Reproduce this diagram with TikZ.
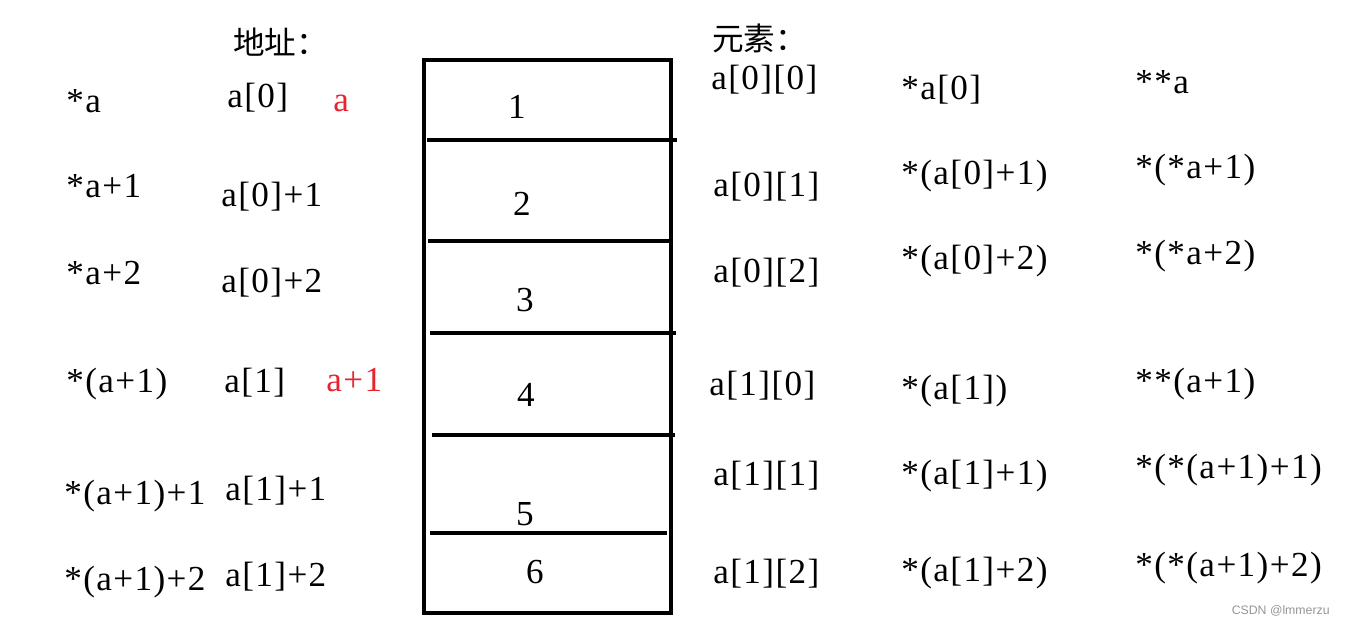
\documentclass[tikz,border=0pt]{standalone}
\usepackage{fontspec}
\setmainfont{Liberation Serif}[LetterSpace=4.0]
\newfontfamily\cjk{Noto Sans CJK SC}
\newfontfamily\wmfont{Liberation Sans}
\usetikzlibrary{positioning}
\definecolor{markred}{RGB}{232,36,48}
\definecolor{markgray}{RGB}{150,150,150}

\begin{document}
\begin{tikzpicture}[x=0.02cm, y=-0.02cm,
  cell/.style={line width=2.2pt},
  txt/.style={anchor=west, inner sep=0pt, yshift=-0.12cm, text height=1.5ex, text depth=0.3ex, font=\fontsize{20}{24}\selectfont},
  hl/.style={txt, text=markred},
  head/.style={anchor=west, inner sep=0pt, font=\cjk\fontsize{18}{22}\selectfont},
  num/.style={inner sep=0pt, font=\fontsize{20}{24}\selectfont}]

\useasboundingbox (0,0) rectangle (1352,626);

% the memory block
\draw [cell] (424,60) rectangle (671,613);
\draw [cell] (427,140) -- (677,140);
\draw [cell] (428,241) -- (671,241);
\draw [cell] (430,333) -- (676,333);
\draw [cell] (432,435) -- (675,435);
\draw [cell] (430,533) -- (667,533);

\node [num] (n1) at (517,107) {1};
\node [num] (n2) at (522,204) {2};
\node [num] (n3) at (525,300) {3};
\node [num] (n4) at (526,395) {4};
\node [num] (n5) at (525,514) {5};
\node [num] (n6) at (535,572) {6};

% addresses
\node [head] (addr) at (233,42) {地址：};

\node [txt] (p00) at (66,102) {*a};
\node [txt] (q00) at (227,97) {a[0]};
\node [hl] (r0) at (333,101) {a};

\node [txt] (p01) at (66,187) {*a+1};
\node [txt] (q01) at (221,196) {a[0]+1};

\node [txt] (p02) at (66,274) {*a+2};
\node [txt] (q02) at (221,282) {a[0]+2};

\node [txt] (p10) at (66,382) {*(a+1)};
\node [txt] (q10) at (224,382) {a[1]};
\node [hl] (r1) at (326,381) {a+1};

\node [txt] (p11) at (64,494) {*(a+1)+1};
\node [txt] (q11) at (225,490) {a[1]+1};

\node [txt] (p12) at (64,580) {*(a+1)+2};
\node [txt] (q12) at (225,576) {a[1]+2};

% elements
\node [head] (elem) at (712,38) {元素：};

\node [txt] (e00) at (711,79) {a[0][0]};
\node [txt] (f00) at (901,89) {*a[0]};
\node [txt] (g00) at (1135,83) {**a};

\node [txt] (e01) at (713,186) {a[0][1]};
\node [txt] (f01) at (901,174) {*(a[0]+1)};
\node [txt] (g01) at (1135,168) {*(*a+1)};

\node [txt] (e02) at (713,272) {a[0][2]};
\node [txt] (f02) at (901,259) {*(a[0]+2)};
\node [txt] (g02) at (1135,254) {*(*a+2)};

\node [txt] (e10) at (709,385) {a[1][0]};
\node [txt] (f10) at (901,389) {*(a[1])};
\node [txt] (g10) at (1135,382) {**(a+1)};

\node [txt] (e11) at (713,475) {a[1][1]};
\node [txt] (f11) at (901,474) {*(a[1]+1)};
\node [txt] (g11) at (1135,468) {*(*(a+1)+1)};

\node [txt] (e12) at (713,573) {a[1][2]};
\node [txt] (f12) at (901,571) {*(a[1]+2)};
\node [txt] (g12) at (1135,566) {*(*(a+1)+2)};

\node [anchor=east, inner sep=0pt, text=markgray, font=\wmfont\fontsize{7}{8}\selectfont] (wm) at (1330,611) {CSDN @lmmerzu};

\end{tikzpicture}
\end{document}
